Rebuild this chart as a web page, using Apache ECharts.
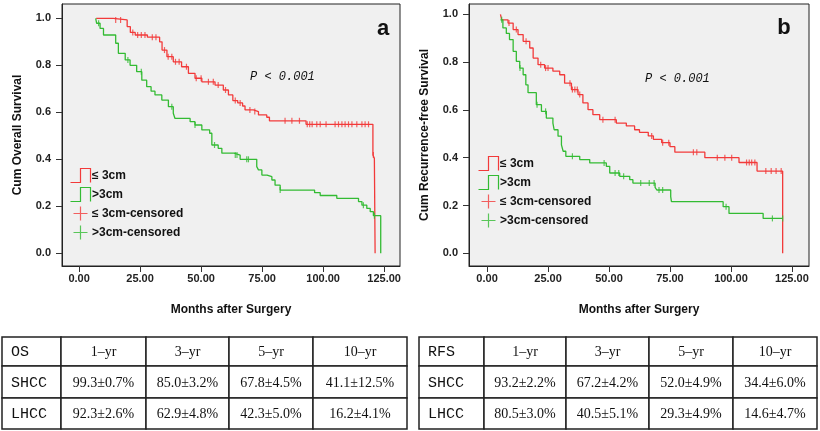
<!DOCTYPE html>
<html><head><meta charset="utf-8">
<script src="https://cdn.jsdelivr.net/npm/echarts@6/dist/echarts.min.js"></script>
<style>html,body{margin:0;padding:0;background:#fff}#c{width:820px;height:431px}</style>
</head><body><div id="c"></div>
<script>
// ---------- data ----------
const xTicks = [0, 25, 50, 75, 100, 125];
const yTicks = [0, 0.2, 0.4, 0.6, 0.8, 1.0];
const seriesNames = ['≤ 3cm', '>3cm', '≤ 3cm-censored', '>3cm-censored'];

// Overall survival, tumour <= 3cm  [month, survival after drop]
const osSmall = [[7,1.0],[14,0.993],[19.7,0.965],[21,0.94],[23,0.929],[28,0.92],[33,0.90],[34,0.865],[36,0.837],[38.6,0.815],[42,0.794],[44.8,0.766],[47.5,0.745],[50.3,0.73],[55.7,0.716],[59.1,0.695],[61.2,0.674],[63,0.65],[65,0.64],[67,0.627],[68,0.61],[71.4,0.603],[73.5,0.589],[76.9,0.579],[78,0.564],[93,0.549],[120.4,0.418],[121,0.404],[121.3,0]];
// Overall survival, tumour > 3cm
const osLarge = [[6.8,1.0],[7.2,0.979],[8.6,0.957],[10,0.929],[15,0.894],[16.1,0.851],[18.9,0.823],[20.9,0.80],[23.6,0.773],[25.7,0.737],[27.7,0.709],[29.5,0.69],[31.1,0.674],[33.9,0.652],[36.6,0.624],[38.6,0.596],[39.3,0.574],[45.5,0.56],[47.5,0.546],[50.3,0.525],[53.5,0.511],[54.4,0.461],[57,0.447],[58.5,0.426],[63.5,0.418],[66,0.40],[72.8,0.369],[73.5,0.355],[74.9,0.333],[77,0.326],[79,0.312],[80.3,0.29],[82.4,0.269],[96.5,0.258],[98.8,0.246],[105.6,0.234],[114.5,0.22],[115.9,0.205],[117.9,0.191],[119.3,0.177],[120.6,0.16],[123.6,0]];
const osSmallCensor = [15,17,22,24,25.5,27,30,31.5,35,36.5,38,39.5,41,44,48,50,53,55,57,60,64,66,70,72,84.4,87.2,90.3,93.5,94.5,95.5,97.4,98.8,101.2,104.9,106.3,107.7,109,110.4,111.8,113.8,115.9,117.2,118.6,120.6];
const osLargeCensor = [8,20,25.5,38,47.5,55.5,64,64.7,68.7,69.4,82.4,116.5,121];

// Recurrence-free survival, tumour <= 3cm
const rfsSmall = [[5.5,1.0],[6,0.977],[8.6,0.963],[10.7,0.936],[12.7,0.915],[14.8,0.887],[17.5,0.859],[18.9,0.817],[20.9,0.789],[23.6,0.775],[27,0.762],[29.8,0.747],[31.8,0.712],[34.6,0.685],[37.3,0.664],[39.3,0.629],[41.4,0.601],[43.4,0.58],[46.2,0.559],[53,0.545],[57.1,0.533],[60.5,0.517],[62.5,0.506],[66.1,0.491],[68.2,0.477],[71.6,0.463],[75,0.446],[77,0.423],[89.3,0.40],[103.3,0.38],[110.7,0.344],[121.2,0]];
// Recurrence-free survival, tumour > 3cm
const rfsLarge = [[5.5,0.977],[6.5,0.943],[7.9,0.92],[9.2,0.894],[10.7,0.845],[12,0.803],[13.4,0.775],[14.8,0.747],[15.9,0.705],[16.8,0.672],[20.2,0.622],[22.3,0.594],[24.3,0.566],[27,0.545],[27.5,0.517],[29.1,0.49],[30.5,0.454],[31.2,0.427],[32.3,0.406],[38,0.392],[42.1,0.378],[48.9,0.364],[50.3,0.336],[54.4,0.322],[58.5,0.308],[59.8,0.294],[68.9,0.276],[69.6,0.265],[75.3,0.237],[75.6,0.216],[96.8,0.195],[99.2,0.167],[113.2,0.146],[121.2,0.146]];
const rfsSmallCensor = [9,12,16,22,24,25,34,35,36,37,38,47.5,52.5,67.5,72,74.5,84.6,86,94.4,97.5,100.3,106.4,107.5,108.5,109.8,114.3,116.5,118.5,120.6];
const rfsLargeCensor = [6,13.5,20.5,24,35,48,52.5,54,56,63,66.5,68.5,70.5,72,98,117,121.2];

// tables
const osHeader = ['OS','1–yr','3–yr','5–yr','10–yr'];
const osSHCC = ['SHCC','99.3±0.7%','85.0±3.2%','67.8±4.5%','41.1±12.5%'];
const osLHCC = ['LHCC','92.3±2.6%','62.9±4.8%','42.3±5.0%','16.2±4.1%'];
const rfsHeader = ['RFS','1–yr','3–yr','5–yr','10–yr'];
const rfsSHCC = ['SHCC','93.2±2.2%','67.2±4.2%','52.0±4.9%','34.4±6.0%'];
const rfsLHCC = ['LHCC','80.5±3.0%','40.5±5.1%','29.3±4.9%','14.6±4.7%'];

// ---------- styling ----------
const RED = '#f23a3a', GREEN = '#33bb33';
const SANS = '"Liberation Sans", Arial, sans-serif';

function valueAt(curve, t) {
  let v = curve[0][1];
  for (const p of curve) { if (p[0] <= t) v = p[1]; else break; }
  return v;
}
function censorPoints(curve, times) { return times.map(t => [t, valueAt(curve, t)]); }

function xAxisCfg(gi, min, max) {
  return {
    type: 'value', gridIndex: gi, min, max,
    name: 'Months after Surgery', nameLocation: 'middle', nameGap: 38,
    nameTextStyle: { fontFamily: SANS, fontWeight: 'bold', fontSize: 12, color: '#111' },
    axisLine: { show: true, onZero: false, lineStyle: { color: '#222' } },
    axisTick: { show: true, length: 6, customValues: xTicks, lineStyle: { color: '#333' } },
    axisLabel: { customValues: xTicks, formatter: v => v.toFixed(2), margin: 7,
      fontFamily: SANS, fontWeight: 'bold', fontSize: 11, color: '#222' },
    splitLine: { show: false }
  };
}
function yAxisCfg(gi, min, max, name) {
  return {
    type: 'value', gridIndex: gi, min, max,
    name, nameLocation: 'middle', nameGap: 38, nameRotate: 90,
    nameTextStyle: { fontFamily: SANS, fontWeight: 'bold', fontSize: 12, color: '#111' },
    axisLine: { show: true, onZero: false, lineStyle: { color: '#222' } },
    axisTick: { show: true, length: 6, customValues: yTicks, lineStyle: { color: '#333' } },
    axisLabel: { customValues: yTicks, formatter: v => v.toFixed(1), margin: 11,
      fontFamily: SANS, fontWeight: 'bold', fontSize: 11, color: '#222' },
    splitLine: { show: false }
  };
}
function curveSeries(name, gi, data, color) {
  return { name, type: 'line', step: 'end', xAxisIndex: gi, yAxisIndex: gi, data,
    showSymbol: false, symbol: 'none', lineStyle: { color, width: 1.3 }, itemStyle: { color },
    silent: true, z: 3 };
}
function censorSeries(name, gi, data, color) {
  return { name, type: 'scatter', xAxisIndex: gi, yAxisIndex: gi, data,
    symbol: 'rect', symbolSize: [1.2, 6], itemStyle: { color }, silent: true, z: 4 };
}
const stepIcon = 'path://M0,14L10,14L10,0L20,0L20,14';
const plusIcon = 'path://M6,0L6,12M0,6L12,6';
function legendCfg(left, top) {
  return {
    orient: 'vertical', left, top, itemWidth: 21, itemHeight: 14, itemGap: 0,
    selectedMode: false, padding: 0,
    textStyle: { fontFamily: SANS, fontWeight: 'bold', fontSize: 12, color: '#111', padding: [0, 0, 0, -4] },
    data: [
      { name: seriesNames[0], icon: stepIcon, itemStyle: { color: 'none', borderColor: RED, borderWidth: 1.2 } },
      { name: seriesNames[1], icon: stepIcon, itemStyle: { color: 'none', borderColor: GREEN, borderWidth: 1.2 } },
      { name: seriesNames[2], icon: plusIcon, itemStyle: { color: 'none', borderColor: RED, borderWidth: 1.2 } },
      { name: seriesNames[3], icon: plusIcon, itemStyle: { color: 'none', borderColor: GREEN, borderWidth: 1.2 } }
    ]
  };
}
function tableGraphics(cols, rows, data) {
  const els = [];
  data.forEach((row, r) => {
    row.forEach((txt, c) => {
      els.push({ type: 'rect', silent: true,
        shape: { x: cols[c], y: rows[r], width: cols[c + 1] - cols[c], height: rows[r + 1] - rows[r] },
        style: { fill: '#fff', stroke: '#222', lineWidth: 1.5 } });
      const first = c === 0;
      els.push({ type: 'text', silent: true, z: 10,
        style: { text: txt, x: first ? cols[0] + 9 : (cols[c] + cols[c + 1]) / 2, y: (rows[r] + rows[r + 1]) / 2 + 1,
          textAlign: first ? 'left' : 'center', align: first ? 'left' : 'center',
          textVerticalAlign: 'middle', verticalAlign: 'middle',
          font: first ? '15px "Liberation Mono", monospace' : '14px "Liberation Serif", serif', fill: '#111' } });
    });
  });
  return els;
}
function label(text, x, y, font, align) {
  return { type: 'text', silent: true, z: 10,
    style: { text, x, y, font, fill: '#111', textAlign: align, align, textVerticalAlign: 'middle', verticalAlign: 'middle' } };
}

const chart = echarts.init(document.getElementById('c'), null, { renderer: 'canvas' });
chart.setOption({
  animation: false,
  backgroundColor: '#fff',
  grid: [
    { left: 62, top: 4, width: 338, height: 262, show: true, backgroundColor: '#f0f0f0', borderColor: '#222', borderWidth: 1 },
    { left: 469, top: 4, width: 340, height: 262, show: true, backgroundColor: '#f0f0f0', borderColor: '#222', borderWidth: 1 }
  ],
  xAxis: [xAxisCfg(0, -7, 131.5), xAxisCfg(1, -7.4, 132)],
  yAxis: [yAxisCfg(0, -0.054, 1.061, 'Cum Overall Survival'), yAxisCfg(1, -0.053, 1.043, 'Cum Recurrence-free Survival')],
  legend: [legendCfg(68, 166), legendCfg(476, 154)],
  series: [
    curveSeries(seriesNames[0], 0, osSmall, RED),
    curveSeries(seriesNames[1], 0, osLarge, GREEN),
    censorSeries(seriesNames[2], 0, censorPoints(osSmall, osSmallCensor), RED),
    censorSeries(seriesNames[3], 0, censorPoints(osLarge, osLargeCensor), GREEN),
    curveSeries(seriesNames[0], 1, rfsSmall, RED),
    curveSeries(seriesNames[1], 1, rfsLarge, GREEN),
    censorSeries(seriesNames[2], 1, censorPoints(rfsSmall, rfsSmallCensor), RED),
    censorSeries(seriesNames[3], 1, censorPoints(rfsLarge, rfsLargeCensor), GREEN)
  ],
  graphic: [
    label('a', 383, 29, 'bold 22px ' + SANS, 'center'),
    label('b', 784, 28, 'bold 22px ' + SANS, 'center'),
    label('P < 0.001', 250, 77, 'italic 12px "Liberation Mono", monospace', 'left'),
    label('P < 0.001', 645, 79, 'italic 12px "Liberation Mono", monospace', 'left'),
    ...tableGraphics([2, 61, 146, 229, 313, 407], [337, 366, 398, 429], [osHeader, osSHCC, osLHCC]),
    ...tableGraphics([419, 484, 566, 649, 733, 817], [337, 366, 398, 429], [rfsHeader, rfsSHCC, rfsLHCC])
  ]
});
</script></body></html>
